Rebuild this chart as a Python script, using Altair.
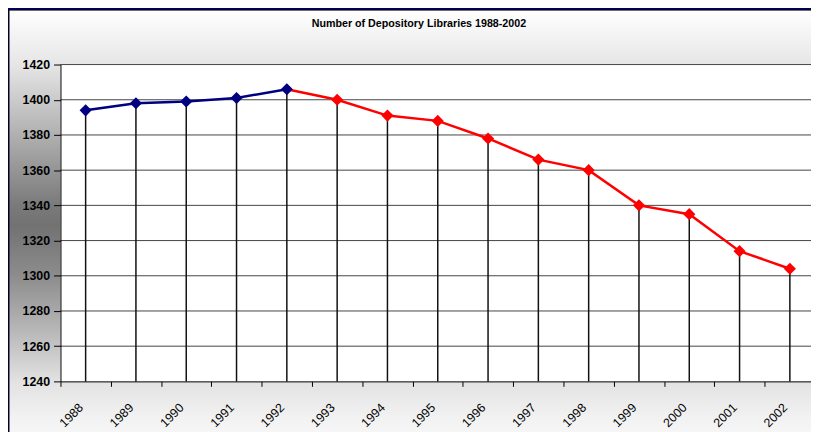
import altair as alt
import pandas as pd

# ---- data ----
years = [1988, 1989, 1990, 1991, 1992, 1993, 1994, 1995, 1996, 1997, 1998, 1999, 2000, 2001, 2002]
libraries = [1394, 1398, 1399, 1401, 1406, 1400, 1391, 1388, 1378, 1366, 1360, 1340, 1335, 1314, 1304]
split_year = 1992
y_ticks = [1240, 1260, 1280, 1300, 1320, 1340, 1360, 1380, 1400, 1420]
title_text = "Number of Depository Libraries 1988-2002"

df = pd.DataFrame({"year": years, "count": libraries})
blue_df = df[df["year"] <= split_year]
red_df = df[df["year"] >= split_year]
red_pts = df[df["year"] > split_year]
grid_df = pd.DataFrame({"v": y_ticks[1:]})
dummy = pd.DataFrame({"a": [0]})

W, H = 758, 320
FONT = "Liberation Sans"
NAVY = "#000080"
RED = "#ff0000"

xs = alt.Scale(domain=[1987.5, 2002.42], nice=False, zero=False)
ys = alt.Scale(domain=[1240, 1420], nice=False, zero=False)

panel_fill = alt.LinearGradient(
    gradient="linear", x1=0, x2=0, y1=0, y2=1,
    stops=[
        alt.GradientStop(offset=0.0, color="#ffffff"),
        alt.GradientStop(offset=0.126, color="#e6e6e6"),
        alt.GradientStop(offset=0.29, color="#b0b0b0"),
        alt.GradientStop(offset=0.453, color="#7a7a7a"),
        alt.GradientStop(offset=0.50, color="#727272"),
        alt.GradientStop(offset=0.616, color="#8c8c8c"),
        alt.GradientStop(offset=0.78, color="#c4c4c4"),
        alt.GradientStop(offset=0.862, color="#e2e2e2"),
        alt.GradientStop(offset=0.947, color="#f2f2f2"),
        alt.GradientStop(offset=1.0, color="#f8f8f8"),
    ],
)

x_axis = alt.Axis(
    values=years, format="d", title=None, grid=False, zindex=1,
    tickOffset=-25.4, labelOffset=20.4, tickSize=5, tickColor="black",
    domainColor="black", domainWidth=1,
    labelAngle=-45, labelAlign="right", labelBaseline="middle", labelPadding=19,
    labelFont=FONT, labelFontSize=12.5, labelColor="black", labelOverlap=False, labelFlush=False,
)
y_axis = alt.Axis(
    values=y_ticks, format="d", title=None, grid=False, zindex=1,
    tickSize=7, tickColor="black", domainColor="black", domainWidth=1,
    labelPadding=4, labelFont=FONT, labelFontSize=12.5, labelFontWeight="bold", labelColor="black",
)

X = alt.X("year:Q", scale=xs, axis=x_axis)
Y = alt.Y("count:Q", scale=ys, axis=y_axis)

panel = alt.Chart(dummy).mark_rect(fill=panel_fill, stroke="#000000", strokeWidth=1).encode(
    x=alt.value(-52), x2=alt.value(W + 20), y=alt.value(-55), y2=alt.value(H + 60)
)
plot_bg = alt.Chart(dummy).mark_rect(fill="white").encode(
    x=alt.value(0), x2=alt.value(W + 20), y=alt.value(0), y2=alt.value(H)
)
grid = alt.Chart(grid_df).mark_rule(color="#444444", strokeWidth=1).encode(
    y=alt.Y("v:Q", scale=ys, axis=y_axis)
)
drops = alt.Chart(df).mark_rule(color="#111111", strokeWidth=1.5).encode(
    x=X, y=Y, y2=alt.datum(1240),
)
red_line = alt.Chart(red_df).mark_line(color=RED, strokeWidth=2.5).encode(x=X, y=Y)
blue_line = alt.Chart(blue_df).mark_line(color=NAVY, strokeWidth=2.5).encode(x=X, y=Y)
red_points = alt.Chart(red_pts).mark_point(
    shape="diamond", filled=True, opacity=1, size=150, color=RED
).encode(x=X, y=Y)
blue_points = alt.Chart(blue_df).mark_point(
    shape="diamond", filled=True, opacity=1, size=150, color=NAVY
).encode(x=X, y=Y)

chart = alt.layer(
    panel, plot_bg, grid, drops, red_line, blue_line, red_points, blue_points
).properties(
    width=W, height=H,
    padding={"left": 53, "top": 55, "right": 0, "bottom": 49},
    autosize=alt.AutoSizeParams(type="none"),
    background="#000066",
    title=alt.TitleParams(
        text=title_text, font=FONT, fontSize=10.8, fontWeight="bold", color="black",
        anchor="middle", frame="group", dx=-17, offset=-30.5, baseline="bottom",
    ),
).configure_view(stroke=None)

chart.save("out.html", embed_options={"renderer": "svg", "actions": False})
